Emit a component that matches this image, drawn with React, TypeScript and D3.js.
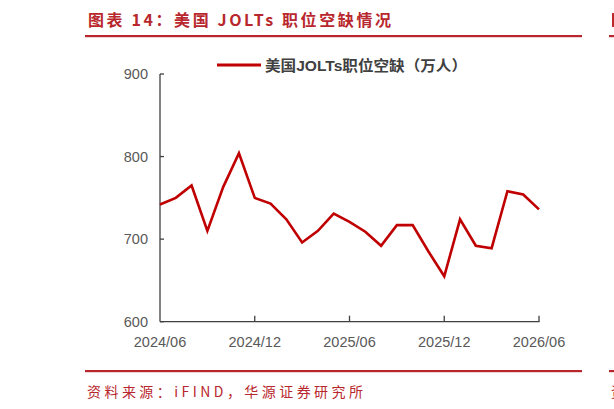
import React from "react";
import * as d3 from "d3";

const months: string[] = [
  "2024/06","2024/07","2024/08","2024/09","2024/10","2024/11","2024/12",
  "2025/01","2025/02","2025/03","2025/04","2025/05","2025/06","2025/07",
  "2025/08","2025/09","2025/10","2025/11","2025/12","2026/01","2026/02",
  "2026/03","2026/04","2026/05","2026/06",
];
const openings: number[] = [
  742, 750, 765, 710, 763, 804, 750, 743, 724, 696, 710, 731, 721, 709,
  692, 717, 717, 685, 655, 724, 692, 689, 758, 754, 736,
];
const yTicks: number[] = [600, 700, 800, 900];
const xTickLabels: string[] = ["2024/06", "2024/12", "2025/06", "2025/12", "2026/06"];
const seriesName = "美国JOLTs职位空缺（万人）";
const titleText = "图表 14：美国 JOLTs 职位空缺情况";
const sourceText = "资料来源：iFIND，华源证券研究所";

export default function App() {
  const W = 614, H = 409;
  const x = d3.scaleLinear().domain([0, months.length - 1]).range([160, 539]);
  const y = d3.scaleLinear().domain([600, 900]).range([321.7, 74]);
  const line = d3.line<number>().x((_, i) => x(i)).y((d) => y(d));
  const red = "#b8272d";
  const axisColor = "#404040";
  const labelColor = "#595959";
  const font = "'Liberation Sans', Arial, 'Noto Sans CJK SC', sans-serif";
  const cjk = "'Noto Sans CJK SC', sans-serif";
  return (
    <svg width={W} height={H} style={{ position: "absolute", left: 0, top: 0, background: "#fff" }}>
      {/* title */}
      <text x={88} y={26} fontFamily={cjk} fontSize={16} fontWeight={700} fill={red}
        textLength={303} lengthAdjust="spacing">{titleText}</text>
      <rect x={85} y={35} width={497} height={2.2} fill={red} />
      <rect x={609} y={35} width={5} height={2.2} fill={red} />
      <rect x={612} y={13} width={2} height={14} fill={red} />

      {/* legend */}
      <line x1={217} x2={261} y1={65} y2={65} stroke="#c00000" strokeWidth={3} />
      <text x={265} y={70.5} fontFamily={font} fontSize={14.5} fontWeight={700} fill={axisColor}
        textLength={202} lengthAdjust="spacingAndGlyphs">{seriesName}</text>

      {/* y axis */}
      <line x1={160} x2={160} y1={y(900)} y2={y(600)} stroke={axisColor} strokeWidth={1.3} />
      {yTicks.map((t) => (
        <g key={t}>
          <line x1={160} x2={164} y1={y(t)} y2={y(t)} stroke={axisColor} strokeWidth={1.3} />
          <text x={148} y={y(t) + 5} textAnchor="end" fontFamily={font} fontSize={14.5} fill={labelColor}>{t}</text>
        </g>
      ))}

      {/* x axis */}
      <line x1={160} x2={539.5} y1={y(600)} y2={y(600)} stroke={axisColor} strokeWidth={1.3} />
      {months.map((m, i) =>
        xTickLabels.includes(m) ? (
          <g key={m}>
            {i > 0 && (
              <line x1={x(i)} x2={x(i)} y1={y(600)} y2={y(600) - 6} stroke={axisColor} strokeWidth={1.3} />
            )}
            <text x={x(i)} y={y(600) + 25} textAnchor="middle" fontFamily={font} fontSize={14.5} fill={labelColor}>{m}</text>
          </g>
        ) : null
      )}

      {/* series */}
      <path d={line(openings) || ""} fill="none" stroke="#c00000" strokeWidth={2.6} strokeLinejoin="miter" />

      {/* footer */}
      <rect x={85} y={370} width={497} height={2.2} fill={red} />
      <rect x={609} y={370} width={5} height={2.2} fill={red} />
      <text x={87} y={397} fontFamily={cjk} fontSize={14} fill={red}
        textLength={276} lengthAdjust="spacing">{sourceText}</text>
      <text x={611} y={397} fontFamily={cjk} fontSize={14} fill={red}>资</text>
    </svg>
  );
}
